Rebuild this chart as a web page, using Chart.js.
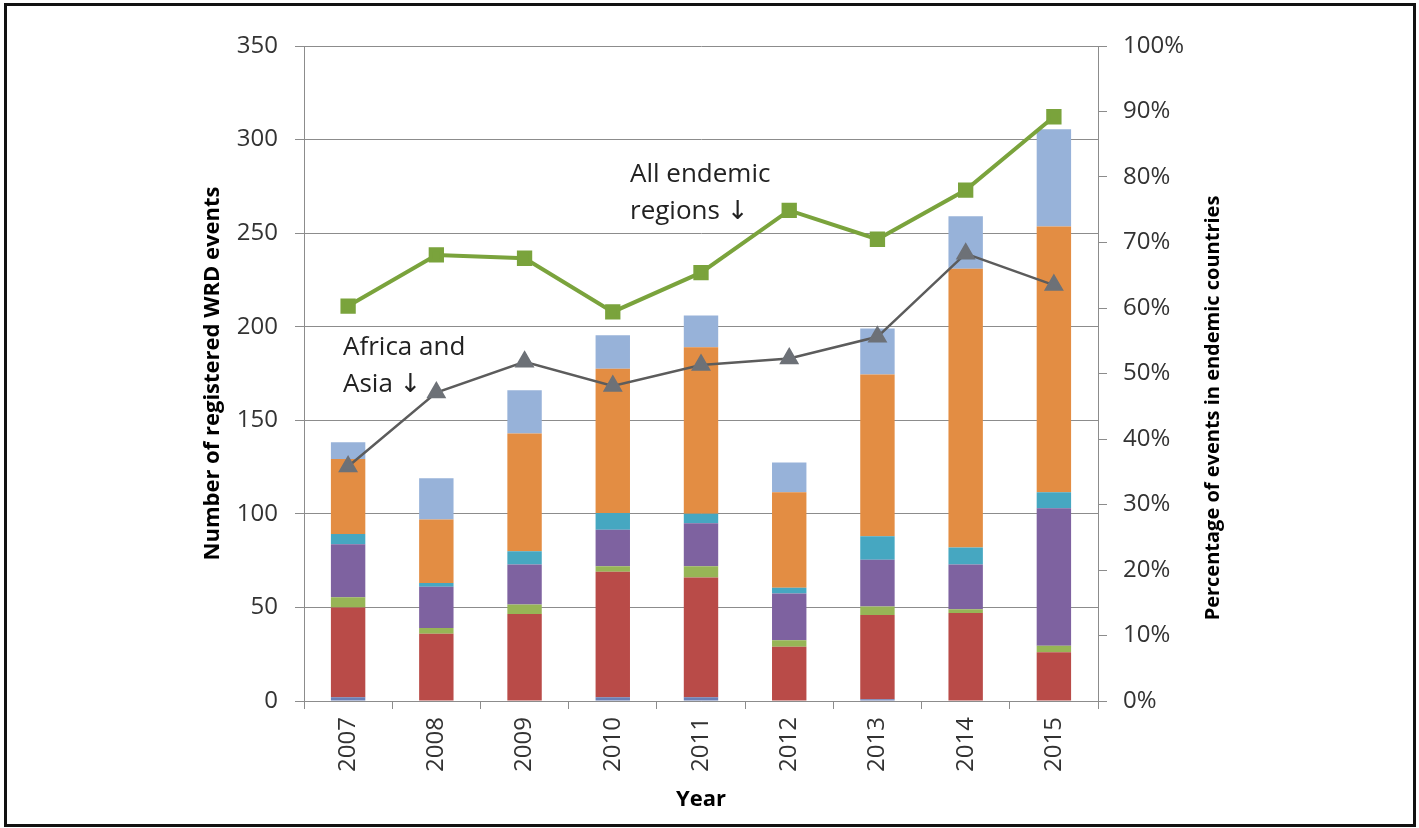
<!DOCTYPE html>
<html>
<head>
<meta charset="utf-8">
<script src="https://cdn.jsdelivr.net/npm/chart.js@4.4.0/dist/chart.umd.min.js"></script>
<style>
  html, body { margin: 0; padding: 0; background: #fff; }
  #frame { position: absolute; left: 4px; top: 3px; width: 1406px; height: 818px; border: 3px solid #111; }
  #chart { position: absolute; left: 0; top: 0; }
</style>
</head>
<body>
<div id="frame"></div>
<canvas id="chart" width="1419" height="828"></canvas>
<script>
// values
const years = ['2007', '2008', '2009', '2010', '2011', '2012', '2013', '2014', '2015'];
const blueBase = [2, 0, 0, 2, 2, 0, 1, 0, 0];
const redPart = [48, 36, 46.5, 67, 64, 29, 45, 47, 26];
const greenPart = [5.5, 3, 5, 3, 6, 3.5, 4.5, 2, 3.5];
const purplePart = [28.3, 22, 21.5, 19.5, 23, 25, 25, 24, 73.5];
const tealPart = [5.5, 2, 7, 9, 5, 3, 12.5, 9, 8.5];
const orangePart = [40, 34, 63, 77, 89, 51, 86.5, 149, 142];
const lightBluePart = [9, 22, 23, 18, 17, 16, 24.5, 28, 52];
const allEndemicPct = [60.3, 68.1, 67.6, 59.4, 65.4, 74.9, 70.5, 78.0, 89.2];
const africaAsiaPct = [35.8, 47.1, 51.8, 48.1, 51.3, 52.3, 55.6, 68.3, 63.5];

const FONT = "'Open Sans', 'DejaVu Sans', sans-serif";
const gridGrey = '#8c8c8c';
const textCol = '#333333';

function bar(data, color) {
  return {
    type: 'bar', data: data, backgroundColor: color, borderWidth: 0,
    yAxisID: 'y', order: 2, barPercentage: 0.39, categoryPercentage: 1
  };
}

// titles and notes that Chart.js can't place the same way
const notes = {
  id: 'notes',
  afterDatasetsDraw(chart) {
    const ctx = chart.ctx;
    ctx.save();
    ctx.fillStyle = '#222';
    ctx.font = '26px ' + FONT;
    ctx.textBaseline = 'middle';
    ctx.textAlign = 'left';
    ctx.fillText('All endemic', 630, 175);
    ctx.fillText('regions \u2193', 630, 212);
    ctx.fillText('Africa and', 343, 348);
    ctx.fillText('Asia \u2193', 343, 385);
    // right axis title, reading bottom to top
    ctx.translate(1213, 408);
    ctx.rotate(-Math.PI / 2);
    ctx.textAlign = 'center';
    ctx.fillStyle = '#000';
    ctx.font = 'bold 20px ' + FONT;
    ctx.fillText('Percentage of events in endemic countries', 0, 0);
    ctx.restore();
  }
};

new Chart(document.getElementById('chart'), {
  data: {
    labels: years,
    datasets: [
      {
        type: 'line', label: 'All endemic regions', data: allEndemicPct, yAxisID: 'y1', order: 0,
        borderColor: '#7aa33c', borderWidth: 4, pointStyle: 'rect', pointRadius: 8,
        pointBackgroundColor: '#7aa33c', pointBorderColor: '#7aa33c', tension: 0
      },
      {
        type: 'line', label: 'Africa and Asia', data: africaAsiaPct, yAxisID: 'y1', order: 1,
        borderColor: '#5c5c5c', borderWidth: 2.5, pointStyle: 'triangle', pointRadius: 9,
        pointBackgroundColor: '#6d7177', pointBorderColor: '#6d7177', tension: 0
      },
      bar(blueBase, '#6a7fb5'),
      bar(redPart, '#b94b48'),
      bar(greenPart, '#97b556'),
      bar(purplePart, '#7e62a0'),
      bar(tealPart, '#46a7c1'),
      bar(orangePart, '#e38d43'),
      bar(lightBluePart, '#97b2d9')
    ]
  },
  options: {
    responsive: false,
    animation: false,
    layout: { padding: { left: 200, top: 46, right: 0, bottom: 0 } },
    plugins: { legend: { display: false }, tooltip: { enabled: false } },
    scales: {
      x: {
        stacked: true,
        grid: { offset: true, drawOnChartArea: false, drawTicks: true, tickLength: 8, color: gridGrey },
        border: { color: gridGrey },
        ticks: { color: textCol, font: { family: FONT, size: 24 }, minRotation: 90, maxRotation: 90, padding: 8 },
        title: { display: true, text: 'Year', color: '#000', font: { family: FONT, size: 22, weight: 'bold' }, padding: { top: 0, bottom: 15 } },
        afterFit(scale) { scale.height = 127; }
      },
      y: {
        stacked: true,
        position: 'left',
        min: 0, max: 350,
        grid: { color: gridGrey, tickLength: 9 },
        border: { color: gridGrey },
        ticks: { stepSize: 50, color: textCol, font: { family: FONT, size: 24 }, padding: 17 },
        title: { display: true, text: 'Number of registered WRD events', color: '#000', font: { family: FONT, size: 22, weight: 'bold' }, padding: { top: 0, bottom: 0 } },
        afterFit(scale) { scale.width = 104; }
      },
      y1: {
        position: 'right',
        min: 0, max: 100,
        grid: { drawOnChartArea: false, color: gridGrey, tickLength: 9 },
        border: { color: gridGrey },
        ticks: { stepSize: 10, color: textCol, font: { family: FONT, size: 24 }, padding: 16, callback: v => v + '%' },
        afterFit(scale) { scale.width = 321; }
      }
    }
  },
  plugins: [notes]
});
</script>
</body>
</html>
